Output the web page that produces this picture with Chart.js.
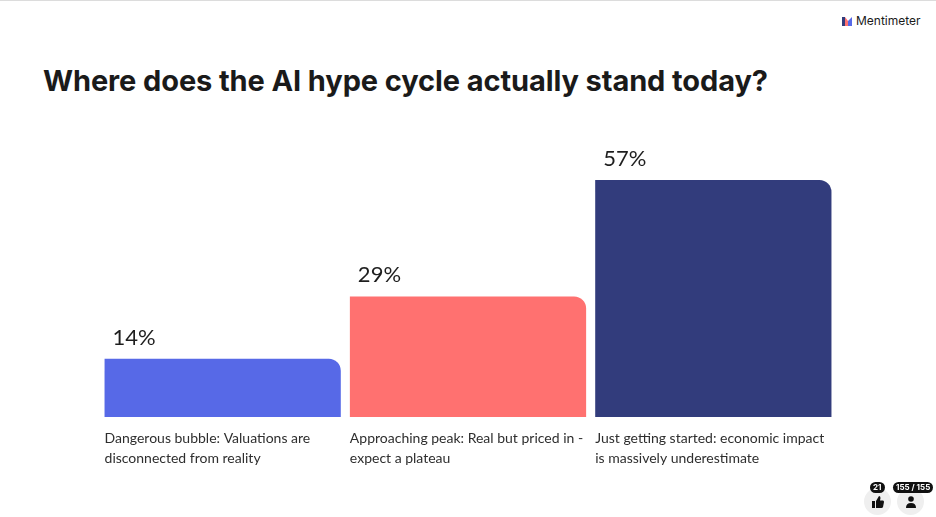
<!DOCTYPE html>
<html>
<head>
<meta charset="utf-8">
<script src="https://cdn.jsdelivr.net/npm/chart.js@4"></script>
<style>
  html, body { margin: 0; padding: 0; background: #fff; }
  body { width: 936px; height: 517px; position: relative; overflow: hidden; font-family: Inter, "Noto Sans", sans-serif; }
  .topline { position: absolute; left: 0; top: 0; width: 936px; height: 1px; background: #dcdcdc; }
  .logo { position: absolute; left: 842px; top: 13px; font-size: 12px; color: #1a1a1a; display: flex; align-items: center; gap: 4px; }
  h1 { position: absolute; left: 43px; top: 63px; margin: 0; font-size: 29px; font-weight: 700; color: #1a1a1a; letter-spacing: -0.1px; }
  #wrap { position: absolute; left: 0; top: 0; width: 936px; height: 517px; }
  .btn { position: absolute; top: 488px; width: 27px; height: 27px; border-radius: 50%; background: #efefef; display: flex; align-items: center; justify-content: center; }
  .badge { position: absolute; top: 482px; height: 11px; border-radius: 6px; background: #111; color: #fff; font-size: 8px; font-weight: 700; line-height: 11px; padding: 0 3px; }
</style>
</head>
<body>
<div class="topline"></div>
<div class="logo">
  <svg width="10" height="10" viewBox="0 0 10 10">
    <rect x="0" y="1" width="3" height="9" fill="#323c7c"/>
    <polygon points="3,1 6,5 6,10 3,10" fill="#ff7170"/>
    <polygon points="6,5 10,1 10,10 6,10" fill="#5769e7"/>
  </svg>
  <span>Mentimeter</span>
</div>
<h1>Where does the AI hype cycle actually stand today?</h1>
<div id="wrap"><canvas id="c" width="936" height="517"></canvas></div>
<div class="btn" style="left:864px">
  <svg width="12" height="12" viewBox="0 0 12 12"><rect x="0" y="5" width="3" height="7" fill="#111"/><path d="M4 5 L7 0 Q8.5 0 8.5 2 L8 4.5 L11 4.5 Q12 4.5 12 6 L11 11 Q10.6 12 9.5 12 L4 12 Z" fill="#111"/></svg>
</div>
<div class="btn" style="left:897px">
  <svg width="12" height="12" viewBox="0 0 12 12"><circle cx="6" cy="3" r="2.8" fill="#111"/><path d="M1 12 Q1 7 6 7 Q11 7 11 12 Z" fill="#111"/></svg>
</div>
<div class="badge" style="left:870px">21</div>
<div class="badge" style="left:893px">155 / 155</div>
<script>
const categories = [
  ['Dangerous bubble: Valuations are', 'disconnected from reality'],
  ['Approaching peak: Real but priced in -', 'expect a plateau'],
  ['Just getting started: economic impact', 'is massively underestimate']
];
const percentages = [14, 29, 57];
const barColors = ['#5769e7', '#ff7170', '#323c7c'];

const labelPlugin = {
  id: 'mentiLabels',
  afterDatasetsDraw(chart) {
    const ctx = chart.ctx;
    const meta = chart.getDatasetMeta(0);
    ctx.save();
    meta.data.forEach((bar, i) => {
      const left = bar.x - bar.width / 2;
      ctx.fillStyle = '#1e1e1e';
      ctx.textAlign = 'left';
      ctx.textBaseline = 'alphabetic';
      ctx.font = '400 22px Lato, Inter, sans-serif';
      ctx.fillText(percentages[i] + '%', left + 8, bar.y - 14);
      ctx.fillStyle = '#2e2e2e';
      ctx.font = '400 14px Lato, Inter, sans-serif';
      ctx.textBaseline = 'middle';
      categories[i].forEach((line, j) => {
        ctx.fillText(line, left, bar.base + 21 + j * 20);
      });
    });
    ctx.restore();
  }
};

new Chart(document.getElementById('c'), {
  type: 'bar',
  data: {
    labels: categories,
    datasets: [{
      data: percentages,
      backgroundColor: barColors,
      borderRadius: { topLeft: 0, topRight: 12, bottomLeft: 0, bottomRight: 0 },
      borderSkipped: false,
      barPercentage: 1,
      categoryPercentage: 0.963
    }]
  },
  options: {
    responsive: false,
    animation: false,
    devicePixelRatio: 1,
    layout: { padding: { left: 100, right: 100, top: 180, bottom: 100 } },
    plugins: { legend: { display: false }, tooltip: { enabled: false } },
    scales: {
      x: { display: false },
      y: { display: false, min: 0, max: 57 }
    }
  },
  plugins: [labelPlugin]
});
</script>
</body>
</html>
